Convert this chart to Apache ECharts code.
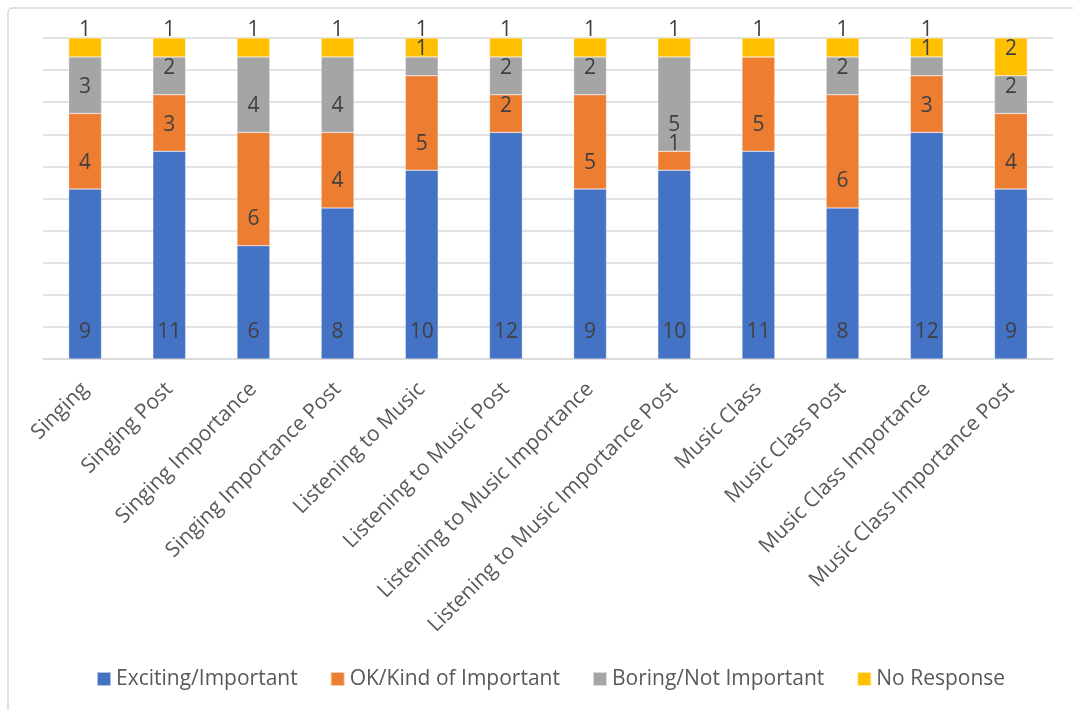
<!DOCTYPE html>
<html>
<head>
<meta charset="utf-8">
<script src="https://cdn.jsdelivr.net/npm/echarts@6/dist/echarts.min.js"></script>
<style>
  html, body { margin: 0; padding: 0; background: #fff; }
  #chart { width: 1073px; height: 710px; }
</style>
</head>
<body>
<div id="chart"></div>
<script>
// Survey topics (x-axis categories)
const categories = [
  'Singing', 'Singing Post', 'Singing Importance', 'Singing Importance Post',
  'Listening to Music', 'Listening to Music Post', 'Listening to Music Importance',
  'Listening to Music Importance Post', 'Music Class', 'Music Class Post',
  'Music Class Importance', 'Music Class Importance Post'
];

// Response counts per answer
const exciting = [9, 11, 6, 8, 10, 12, 9, 10, 11, 8, 12, 9];
const okKind   = [4, 3, 6, 4, 5, 2, 5, 1, 5, 6, 3, 4];
const boring   = [3, 2, 4, 4, 1, 2, 2, 5, 0, 2, 1, 2];
const noResp   = [1, 1, 1, 1, 1, 1, 1, 1, 1, 1, 1, 2];

const seriesNames = ['Exciting/Important', 'OK/Kind of Important', 'Boring/Not Important', 'No Response'];
const seriesColors = ['#4472C4', '#ED7D31', '#A5A5A5', '#FFC000'];
const seriesData = [exciting, okKind, boring, noResp];

const FONT = '"Open Sans", sans-serif';

const chart = echarts.init(document.getElementById('chart'), null, { renderer: 'canvas' });

chart.setOption({
  animation: false,
  backgroundColor: '#fff',
  textStyle: { fontFamily: FONT },
  graphic: [{
    type: 'rect',
    shape: { x: 8, y: 8, width: 1100, height: 740, r: 4 },
    style: { fill: 'none', stroke: '#d9d9d9', lineWidth: 1.5 },
    silent: true, z: -1
  }],
  grid: { left: 43, right: 20, top: 38, bottom: 351, containLabel: false },
  legend: {
    top: 662,
    left: 91,
    icon: 'rect',
    itemWidth: 14,
    itemHeight: 14,
    itemGap: 32,
    textStyle: { color: '#595959', fontSize: 21, lineHeight: 24, fontFamily: FONT },
    data: seriesNames
  },
  xAxis: {
    type: 'category',
    data: categories,
    axisTick: { show: false },
    axisLine: { lineStyle: { color: '#d9d9d9', width: 1.5 } },
    axisLabel: {
      rotate: 45,
      interval: 0,
      margin: 27,
      color: '#595959',
      fontSize: 21,
      fontFamily: FONT
    }
  },
  yAxis: {
    type: 'value',
    min: 0,
    max: 17,
    interval: 1.7,
    axisLabel: { show: false },
    axisLine: { show: false },
    axisTick: { show: false },
    splitLine: { lineStyle: { color: '#d9d9d9', width: 1.5 } }
  },
  series: seriesData.map((vals, i) => ({
    name: seriesNames[i],
    type: 'bar',
    stack: 'total',
    barWidth: '39%',
    itemStyle: { color: seriesColors[i], borderColor: 'rgba(255,255,255,0.6)', borderWidth: 0.5 },
    label: {
      show: true,
      position: 'insideBottom',
      distance: 16,
      color: '#404040',
      fontSize: 21,
      lineHeight: 21,
      fontFamily: FONT,
      formatter: p => (p.value ? String(p.value) : '')
    },
    data: vals
  }))
});
</script>
</body>
</html>
